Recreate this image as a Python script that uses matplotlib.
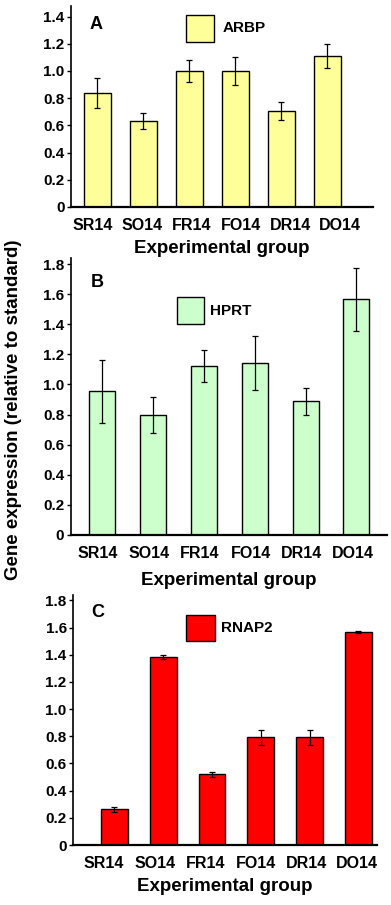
import numpy as np
import matplotlib
matplotlib.use('Agg')
import matplotlib.pyplot as plt
from matplotlib.patches import Rectangle

plt.rcParams['font.family'] = ['Liberation Sans', 'DejaVu Sans']
plt.rcParams['font.weight'] = 'bold'

GROUPS = ['SR14', 'SO14', 'FR14', 'FO14', 'DR14', 'DO14']

ARBP = [0.84, 0.63, 1.00, 1.00, 0.705, 1.11]
ARBP_ERR = [0.11, 0.06, 0.08, 0.10, 0.066, 0.09]

HPRT = [0.955, 0.80, 1.125, 1.14, 0.888, 1.565]
HPRT_ERR = [0.21, 0.12, 0.107, 0.18, 0.088, 0.21]

RNAP2 = [0.262, 1.385, 0.519, 0.792, 0.792, 1.567]
RNAP2_ERR = [0.018, 0.015, 0.016, 0.057, 0.057, 0.01]

W, H = 391, 905

# rect in pixels: left, y of zero line, width, height
panels = [
    dict(vals=ARBP, err=ARBP_ERR, color='#ffff99', letter='A', gene='ARBP',
         rect=(71, 207, 302, 200.6), ymax=1.475, yticks=[0, 0.2, 0.4, 0.6, 0.8, 1.0, 1.2, 1.4],
         xlim=(-0.576, 5.99), width=0.59, tick=(-0.1, 1.075), lpad=5,
         lpos=(0.06, 0.91), box=(0.381, 0.823, 0.093, 0.134), tpos=(0.503, 0.89)),
    dict(vals=HPRT, err=HPRT_ERR, color='#ccffcc', letter='B', gene='HPRT',
         rect=(70.5, 535, 316.5, 277), ymax=1.84, yticks=[0, 0.2, 0.4, 0.6, 0.8, 1.0, 1.2, 1.4, 1.6, 1.8],
         xlim=(-0.62, 5.6), width=0.51, tick=(-0.08, 1.0), lpad=8,
         lpos=(0.065, 0.91), box=(0.336, 0.762, 0.086, 0.097), tpos=(0.441, 0.81)),
    dict(vals=RNAP2, err=RNAP2_ERR, color='#ff0000', letter='C', gene='RNAP2',
         rect=(73, 845, 304, 250), ymax=1.84, yticks=[0, 0.2, 0.4, 0.6, 0.8, 1.0, 1.2, 1.4, 1.6, 1.8],
         xlim=(-0.85, 5.38), width=0.55, tick=(-0.215, 1.037), lpad=5,
         lpos=(0.06, 0.93), box=(0.372, 0.816, 0.095, 0.104), tpos=(0.487, 0.868)),
]

fig = plt.figure(figsize=(W / 100, H / 100), dpi=100)

for p in panels:
    x0, y0, pw, ph = p['rect']
    ax = fig.add_axes([x0 / W, (H - y0) / H, pw / W, ph / H])
    x = np.arange(len(GROUPS))
    ax.bar(x, p['vals'], width=p['width'], color=p['color'], edgecolor='black', linewidth=1.0,
           yerr=p['err'], capsize=2.5, error_kw=dict(elinewidth=0.9, capthick=0.9, ecolor='black'))
    ax.set_xlim(*p['xlim'])
    ax.set_ylim(0, p['ymax'])
    ax.set_yticks(p['yticks'])
    ax.set_yticklabels(['0' if t == 0 else f'{t:.1f}' for t in p['yticks']])
    a, b = p['tick']
    ax.set_xticks(a + b * x)
    ax.set_xticklabels(GROUPS)
    ax.tick_params(axis='x', length=0, pad=8, labelsize=11.5)
    ax.tick_params(axis='y', length=3, width=1, pad=1.5, labelsize=11)
    for s in ['top', 'right']:
        ax.spines[s].set_visible(False)
    ax.spines['left'].set_linewidth(1.2)
    ax.spines['bottom'].set_linewidth(1.6)
    ax.set_xlabel('Experimental group', fontsize=13.5, fontweight='bold', labelpad=p['lpad'])

    ax.text(p['lpos'][0], p['lpos'][1], p['letter'], transform=ax.transAxes,
            fontsize=13, fontweight='bold', va='center', ha='left')
    bx, by, bw, bh = p['box']
    ax.add_patch(Rectangle((bx, by), bw, bh, transform=ax.transAxes,
                           facecolor=p['color'], edgecolor='black', linewidth=1.0, clip_on=False))
    ax.text(p['tpos'][0], p['tpos'][1], p['gene'], transform=ax.transAxes,
            fontsize=11, fontweight='bold', va='center', ha='left')

fig.text(14 / W, (H - 410) / H, 'Gene expression (relative to standard)', rotation=90,
         fontsize=13.5, fontweight='bold', va='center', ha='center')

fig.savefig('out.png', dpi=100)
